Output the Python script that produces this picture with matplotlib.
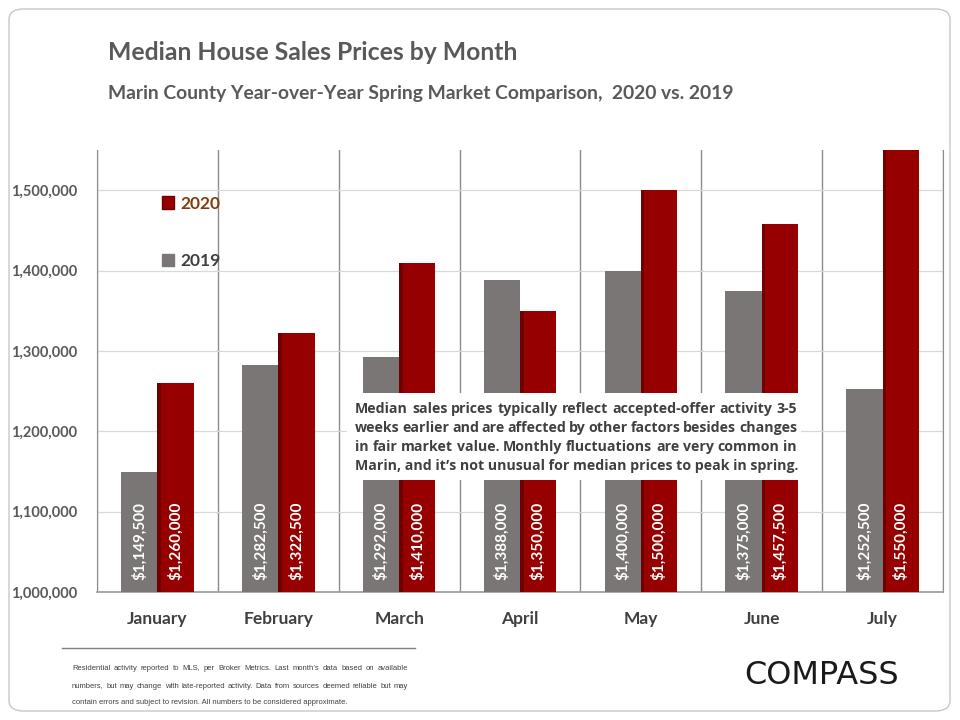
import numpy as np
import matplotlib
matplotlib.use("Agg")
import matplotlib.pyplot as plt
from matplotlib.patches import Patch, FancyBboxPatch
from matplotlib.ticker import FuncFormatter

months = ["January", "February", "March", "April", "May", "June", "July"]
prices_2019 = [1149500, 1282500, 1292000, 1388000, 1400000, 1375000, 1252500]
prices_2020 = [1260000, 1322500, 1410000, 1350000, 1500000, 1457500, 1550000]
y_ticks = [1000000, 1100000, 1200000, 1300000, 1400000, 1500000]

title = "Median House Sales Prices by Month"
subtitle = "Marin County Year-over-Year Spring Market Comparison,  2020 vs. 2019"
note_lines = [
    "Median sales prices typically reflect accepted-offer activity 3-5",
    "weeks earlier and are affected by other factors besides changes",
    "in fair market value. Monthly fluctuations are very common in",
    "Marin, and it\u2019s not unusual for median prices to peak in spring.",
]
footer_lines = [
    "Residential activity reported to MLS, per Broker Metrics. Last month\u2019s data based on available",
    "numbers, but may change with late-reported activity. Data from sources deemed reliable but may",
    "contain errors and subject to revision. All numbers to be considered approximate.",
]

RED = "#960000"
RED_DARK = "#6e0000"
GRAY = "#7b7676"
TXT = "#595959"
FONT = "Lato"

W, H = 960, 720
fig = plt.figure(figsize=(9.6, 7.2), dpi=100)
fig.patch.set_facecolor("white")

def fx(px):
    return px / W

def fy(py):
    return 1 - py / H

card = FancyBboxPatch((fx(9), fy(711)), fx(941), 702 / H,
                      boxstyle="round,pad=0,rounding_size=0.015",
                      transform=fig.transFigure, fill=False,
                      edgecolor="#c8c8c8", linewidth=1.0)
fig.patches.append(card)

ax = fig.add_axes([fx(97), fy(592), fx(943 - 97), (592 - 150) / H])
x = np.arange(len(months))
bw = 0.30
ax.bar(x - bw / 2, prices_2019, width=bw, color=GRAY, zorder=3)
ax.bar(x + bw / 2, prices_2020, width=bw, color=RED, zorder=3)
ax.bar(x + 0.015, prices_2020, width=0.03, color=RED_DARK, zorder=3.5)

for i in range(len(months)):
    ax.text(x[i] - bw / 2, 1015000, "${:,.0f}".format(prices_2019[i]), rotation=90,
            ha="center", va="bottom", color="white", fontsize=11,
            fontweight="bold", family=FONT, zorder=5)
    ax.text(x[i] + bw / 2, 1015000, "${:,.0f}".format(prices_2020[i]), rotation=90,
            ha="center", va="bottom", color="white", fontsize=11,
            fontweight="bold", family=FONT, zorder=5)

ax.set_xlim(-0.5, len(months) - 0.5)
ax.set_ylim(1000000, 1550000)
ax.set_yticks(y_ticks)
ax.yaxis.set_major_formatter(FuncFormatter(lambda v, p: "{:,.0f}".format(v)))
ax.set_xticks(x)
ax.set_xticklabels(months)
ax.set_xticks(np.arange(-0.5, len(months)), minor=True)
ax.tick_params(axis="both", which="both", length=0)
ax.tick_params(axis="x", which="major", pad=14)
ax.tick_params(axis="y", pad=14)
for lab in ax.get_xticklabels():
    lab.set_fontsize(12.5)
    lab.set_fontweight("bold")
    lab.set_color("#404040")
    lab.set_family(FONT)
for lab in ax.get_yticklabels():
    lab.set_fontsize(10.5)
    lab.set_fontweight("bold")
    lab.set_color(TXT)
    lab.set_family(FONT)

ax.grid(axis="y", which="major", color="#d9d9d9", linewidth=0.9, zorder=0)
ax.grid(axis="x", which="minor", color="#8c8c8c", linewidth=1.0, zorder=1)
ax.set_axisbelow(True)
ax.spines["top"].set_visible(False)
for s in ["left", "right"]:
    ax.spines[s].set_color("#8c8c8c")
ax.spines["bottom"].set_color("#9a9a9a")
ax.spines["bottom"].set_linewidth(1.2)

leg = ax.legend(handles=[Patch(facecolor=RED, edgecolor=RED_DARK),
                         Patch(facecolor=GRAY, edgecolor=GRAY)],
                labels=["2020", "2019"], frameon=False,
                loc="upper left", bbox_to_anchor=(fx(146), fy(180)),
                bbox_transform=fig.transFigure,
                handlelength=0.7, handleheight=0.7, handletextpad=0.4,
                labelspacing=2.4, prop={"family": FONT, "weight": "bold", "size": 12.5})
leg.get_texts()[0].set_color("#843c0c")
leg.get_texts()[1].set_color("#404040")

fig.text(fx(108), fy(53), title, fontsize=17.8, fontweight="bold", color=TXT,
         family=FONT, ha="left", va="center")
fig.text(fx(108), fy(93), subtitle, fontsize=13.9, fontweight="bold", color=TXT,
         family=FONT, ha="left", va="center")

box = plt.Rectangle((fx(347), fy(480)), fx(801 - 347), (480 - 393) / H,
                    transform=fig.transFigure, facecolor="white", edgecolor="none",
                    zorder=10)
fig.patches.append(box)

fig.canvas.draw()
renderer = fig.canvas.get_renderer()

def measure(s, **kw):
    t = fig.text(0, 0, s, **kw)
    w = t.get_window_extent(renderer).width
    t.remove()
    return w

def justified(lines, x0, x1, ys, justify_last=False, **kw):
    for li, (line, y) in enumerate(zip(lines, ys)):
        words = [w for w in line.split(" ") if w]
        last = li == len(lines) - 1
        widths = [measure(w, **kw) for w in words]
        gap = (x1 - x0 - sum(widths)) / (len(words) - 1)
        if (last and not justify_last) or gap <= 0:
            fig.text(fx(x0), fy(y), " ".join(words), ha="left", va="center",
                     zorder=11, **kw)
            continue
        cx = x0
        for w, wd in zip(words, widths):
            fig.text(fx(cx), fy(y), w, ha="left", va="center", zorder=11, **kw)
            cx += wd + gap

justified(note_lines, 355, 797, [409, 428, 447, 466],
          fontsize=10.2, fontweight="bold", color="#404040", family="Open Sans")

fig.add_artist(plt.Line2D([fx(62), fx(415)], [fy(648), fy(648)],
                          transform=fig.transFigure, color="#7f7f7f", linewidth=1))
foot_kw = dict(color="#404040", family="Liberation Sans")
longest = max(measure(l, fontsize=10, **foot_kw) for l in footer_lines)
foot_size = 10 * 330 / longest
justified(footer_lines, 72, 408, [668, 686, 702], fontsize=foot_size, **foot_kw)

fig.text(fx(822), fy(676), "COMPASS", fontsize=23, color="#1a1a1a",
         family="DejaVu Sans", ha="center", va="center")

fig.savefig("out.png", dpi=100, facecolor="white")
